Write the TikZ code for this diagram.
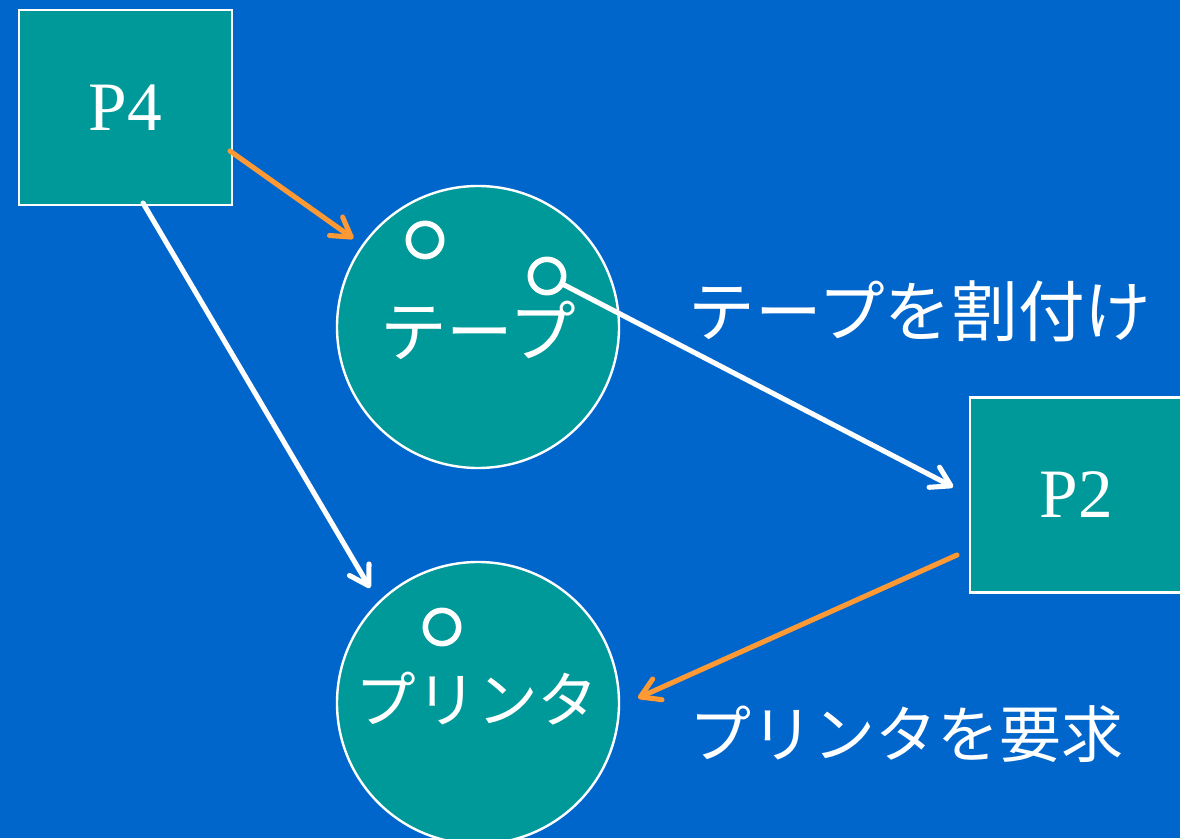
\documentclass[tikz,border=0pt]{standalone}
\usepackage{fontspec}
\setmainfont{Liberation Serif}
\newfontfamily\jp{Noto Sans CJK JP}
\usetikzlibrary{arrows.meta,shapes.geometric}
\definecolor{bgblue}{HTML}{0066CC}
\definecolor{teal}{HTML}{009999}
\definecolor{orng}{HTML}{FF9933}
\tikzset{
  procbox/.style={draw=white, line width=2.2pt, fill=teal, rectangle, minimum width=159.75pt, minimum height=146.25pt, inner sep=0pt, text=white, font=\fontsize{52}{52}\selectfont},
  resource/.style={draw=white, line width=1.8pt, fill=teal, circle, minimum size=211.5pt, inner sep=0pt},
  dot/.style={draw=white, line width=4.2pt, circle, minimum size=25pt, inner sep=0pt},
  jlabel/.style={text=white, font=\jp\fontsize{47}{47}\selectfont, inner sep=0pt},
  warrow/.style={draw=white, line width=3.8pt, line cap=round, -{Straight Barb[length=14pt,width=17pt,round]}},
  oarrow/.style={draw=orng, line width=3.8pt, line cap=round, -{Straight Barb[length=14pt,width=17pt,round]}},
}
\begin{document}
\begin{tikzpicture}[x=0.75pt,y=-0.75pt]
\useasboundingbox (0,0) rectangle (1180,838);
\fill[bgblue] (0,0) rectangle (1180,838);
% nodes
\node[procbox] (p4) at (125.5,107.5) {P4};
\node[procbox] (p2) at (1076.5,495) {P2};
\node[resource] (tape) at (478,327) {};
\node[resource] (printer) at (478,703) {};
\node[jlabel, font=\jp\fontsize{50}{50}\selectfont] (tapetxt) at (478,330) {テープ};
\node[jlabel, font=\jp\fontsize{45.5}{45.5}\selectfont] (printxt) at (477,699) {プリンタ};
\node[dot] (t1) at (425,240) {};
\node[dot] (t2) at (547,276) {};
\node[dot] (pr1) at (442,627) {};
% labels
\node[jlabel, font=\jp\fontsize{50}{50}\selectfont] (lab1) at (920,311) {テープを割付け};
\node[jlabel, font=\jp\fontsize{46.5}{46.5}\selectfont] (lab2) at (906,734) {プリンタを要求};
% connector ends
\coordinate (s1) at (230,151);
\coordinate (s2) at (143,203);
\coordinate (e2) at (370,588);
\coordinate (s3) at (957,555);
\coordinate (e3) at (638,698);
% connectors
\draw[oarrow, shorten >=8pt] (s1) -- (tape);
\draw[warrow] (s2) -- (e2);
\draw[warrow, shorten >=13pt] (t2) -- (p2.west);
\draw[oarrow] (s3) -- (e3);
\end{tikzpicture}
\end{document}
